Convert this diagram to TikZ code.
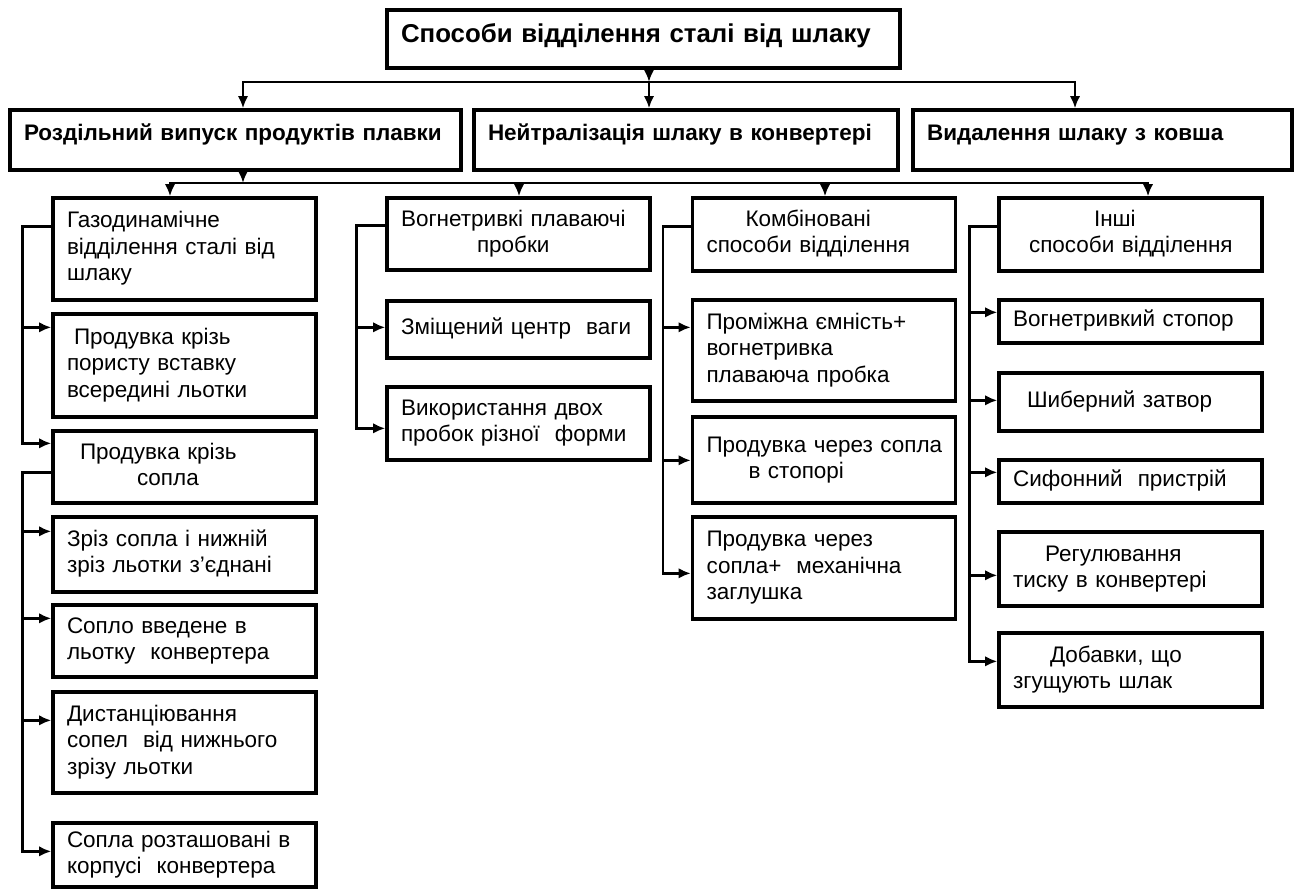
\documentclass[tikz,border=0pt]{standalone}
\usepackage{fontspec}
\setmainfont{Liberation Sans}
\usetikzlibrary{arrows.meta}
\newlength{\pxlen}
\setlength{\pxlen}{0.02cm}
\newcommand{\cellrows}[1]{\begin{tabular}{@{}l@{}}#1\end{tabular}}

\begin{document}
\begin{tikzpicture}[x=0.02cm, y=-0.02cm, line join=miter, line cap=rect,
        cell/.style={draw, line width=1.9pt, text width=235*\pxlen, inner xsep=14*\pxlen, inner ysep=0pt, align=left, font=\fontsize{12.8}{15}\selectfont},
        head/.style={cell, text depth=10pt, font=\fontsize{12.8}{15}\selectfont\bfseries},
        arr/.style={line width=1.5pt, -{Latex[length=7pt, width=6pt]}},
        link/.style={line width=1.5pt}]
    \useasboundingbox (0,0) rectangle (1294,890);
    % levels 1 and 2
    \node[head, text width=485*\pxlen, minimum height=58*\pxlen, text depth=6.5pt, font=\fontsize{14.7}{16}\selectfont\bfseries] (top) at (643.5,39) {\cellrows{Способи відділення сталі від шлаку}};
    \node[head, text width=423*\pxlen, minimum height=60*\pxlen] (lA) at (235.5,140) {\cellrows{Роздільний випуск продуктів плавки}};
    \node[head, text width=396*\pxlen, minimum height=60*\pxlen] (lB) at (686,140) {\cellrows{Нейтралізація шлаку в конвертері}};
    \node[head, text width=351*\pxlen, minimum height=60*\pxlen] (lC) at (1102.5,140) {\cellrows{Видалення шлаку з ковша}};
    % column 1
    \node[cell, minimum height=102*\pxlen] (g1) at (184.5,249) {\cellrows{Газодинамічне\\відділення сталі від\\шлаку}};
    \node[cell, minimum height=103*\pxlen] (g2) at (184.5,365.5) {\cellrows{\hspace{7\pxlen}Продувка крізь\\пористу вставку\\всередині льотки}};
    \node[cell, minimum height=72*\pxlen] (g3) at (184.5,467) {\cellrows{\hspace{13\pxlen}Продувка крізь\\\hspace{70\pxlen}сопла}};
    \node[cell, minimum height=75*\pxlen] (g4) at (184.5,554.5) {\cellrows{Зріз сопла і нижній\\зріз льотки з'єднані}};
    \node[cell, minimum height=72*\pxlen] (g5) at (184.5,641) {\cellrows{Сопло введене в\\льотку\ \ конвертера}};
    \node[cell, minimum height=101*\pxlen] (g6) at (184.5,742.5) {\cellrows{Дистанціювання\\сопел\ \ від нижнього\\зрізу льотки}};
    \node[cell, minimum height=64*\pxlen] (g7) at (184.5,855) {\cellrows{Сопла розташовані в\\корпусі\ \ конвертера}};
    % column 2
    \node[cell, minimum height=72*\pxlen] (v1) at (518.5,234) {\cellrows{Вогнетривкі плаваючі\\\hspace{76\pxlen}пробки}};
    \node[cell, minimum height=57*\pxlen] (v2) at (518.5,329.5) {\cellrows{Зміщений центр\ \ ваги}};
    \node[cell, minimum height=73*\pxlen] (v3) at (518.5,423.5) {\cellrows{Використання двох\\пробок різної\ \ форми}};
    % column 3
    \node[cell, minimum height=73*\pxlen] (k1) at (824,234.5) {\cellrows{\hspace{39\pxlen}Комбіновані\\способи відділення}};
    \node[cell, minimum height=101*\pxlen] (k2) at (824,350.5) {\cellrows{Проміжна ємність+\\вогнетривка\\плаваюча пробка}};
    \node[cell, minimum height=86*\pxlen] (k3) at (824,460) {\cellrows{Продувка через сопла\\\hspace{42\pxlen}в стопорі}};
    \node[cell, minimum height=102*\pxlen] (k4) at (824,568) {\cellrows{Продувка через\\сопла+\ \ механічна\\заглушка}};
    % column 4
    \node[cell, minimum height=73*\pxlen] (i1) at (1130.5,234.5) {\cellrows{\hspace{81\pxlen}Інші\\\hspace{16\pxlen}способи відділення}};
    \node[cell, minimum height=43*\pxlen] (i2) at (1130.5,321.5) {\cellrows{Вогнетривкий стопор}};
    \node[cell, minimum height=58*\pxlen] (i3) at (1130.5,402) {\cellrows{\hspace{14\pxlen}Шиберний затвор}};
    \node[cell, minimum height=43*\pxlen] (i4) at (1130.5,481.5) {\cellrows{Сифонний\ \ пристрій}};
    \node[cell, minimum height=74*\pxlen] (i5) at (1130.5,569) {\cellrows{\hspace{32\pxlen}Регулювання\\тиску в конвертері}};
    \node[cell, minimum height=74*\pxlen] (i6) at (1130.5,670) {\cellrows{\hspace{37\pxlen}Добавки, що\\згущують шлак}};
    % top connectors
    \coordinate (j0) at (649,82);
    \coordinate (jl) at (243,82);
    \coordinate (jr) at (1075,82);
    \draw[arr] (top.south -| j0) -- (j0);
    \draw[link] (jl) -- (jr);
    \draw[arr] (jl) -- (jl |- lA.north);
    \draw[arr] (j0) -- (j0 |- lB.north);
    \draw[arr] (jr) -- (jr |- lC.north);
    % level 3 connectors
    \coordinate (j1) at (243,183);
    \coordinate (h1) at (170,183);
    \coordinate (h2) at (519,183);
    \coordinate (h3) at (825,183);
    \coordinate (h4) at (1148,183);
    \draw[arr] (lA.south -| j1) -- (j1);
    \draw[link] (h1) -- (h4);
    \foreach \h/\n in {h1/g1, h2/v1, h3/k1, h4/i1}
        \draw[arr] (\h) -- (\h |- \n.north);
    % column trunks
    \draw[arr] ([shift={(0,30)}]g1.north west) -- ++(-29,0) |- ([shift={(0,14)}]g3.north west);
    \draw[arr] ([shift={(-29,15)}]g2.north west) -- ++(29,0);
    \draw[arr] ([shift={(0,43)}]g3.north west) -- ++(-29,0) |- ([shift={(0,30)}]g7.north west);
    \foreach \n/\d in {g4/16, g5/15, g6/30}
        \draw[arr] ([shift={(-29,\d)}]\n.north west) -- ++(29,0);
    \draw[arr] ([shift={(0,29)}]v1.north west) -- ++(-29,0) |- ([shift={(0,43)}]v3.north west);
    \draw[arr] ([shift={(-29,28)}]v2.north west) -- ++(29,0);
    \draw[arr] ([shift={(0,30)}]k1.north west) -- ++(-28,0) |- ([shift={(0,58)}]k4.north west);
    \foreach \n/\d in {k2/29, k3/45}
        \draw[arr] ([shift={(-28,\d)}]\n.north west) -- ++(28,0);
    \draw[arr] ([shift={(0,30)}]i1.north west) -- ++(-28,0) |- ([shift={(0,30)}]i6.north west);
    \foreach \n/\d in {i2/14, i3/29, i4/14, i5/45}
        \draw[arr] ([shift={(-28,\d)}]\n.north west) -- ++(28,0);
\end{tikzpicture}
\end{document}
